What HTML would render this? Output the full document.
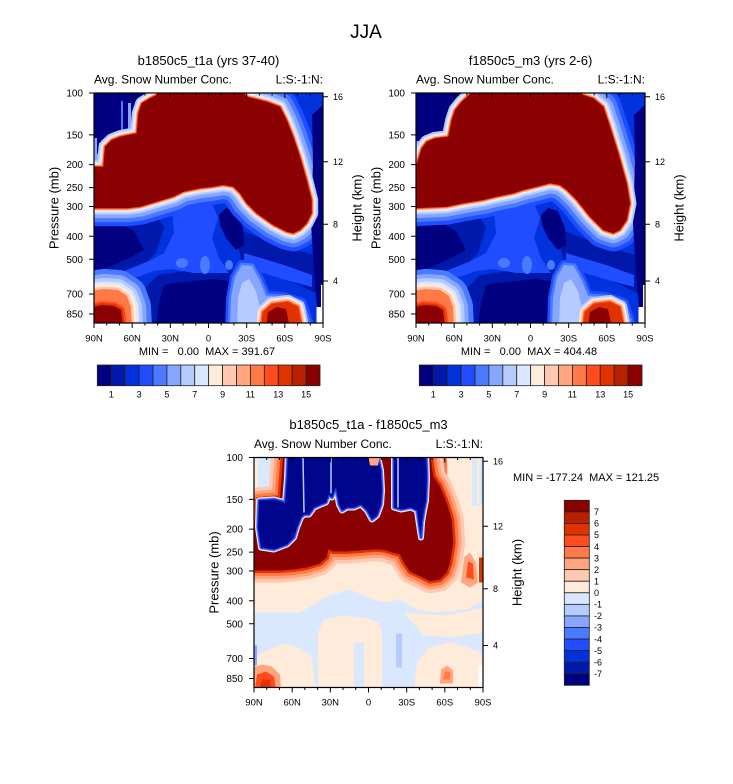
<!DOCTYPE html>
<html><head><meta charset="utf-8"><style>html,body{margin:0;padding:0;background:#fff}svg{display:block}</style></head>
<body>
<svg xmlns="http://www.w3.org/2000/svg" xmlns:xlink="http://www.w3.org/1999/xlink" width="733" height="784" viewBox="0 0 733 784" font-family="'Liberation Sans', Arial, Helvetica, sans-serif">
<defs>
<clipPath id="clip"><rect x="0" y="0" width="229" height="230"/></clipPath>
<path id="b1" d="M-5,73.7 L9.3,73.7 L11,53.7 L17.7,47 L26,43.7 L34.3,42 L42.7,40.3 L44.3,20.3 L47.7,10.3 L56,5.3 L62.7,2 L64.3,-5 L146,-5 L152.7,3.7 L172.7,8.7 L186,13.7 L192.7,27 L199.3,43.7 L206,63.7 L212.7,87 L217.7,107 L217.7,120.3 L212.7,130.3 L206,137 L199.3,140.3 L192.7,138.7 L179.3,132 L162.7,120.3 L152.7,110.3 L146,100.3 L139.3,93.7 L129.3,92 L119.3,93.7 L106,95.3 L89.3,98.7 L79.3,103.7 L62.7,108.7 L46,113.7 L32.7,115.3 L12.7,115.3 L-5,115.3 Z"/>
<path id="b2" d="M-5,73.7 L0,73.7 L5.7,55.3 L10.7,48.7 L19,45.3 L32.3,43.7 L35.7,27 L39,17 L45.7,8.7 L60.7,-5 L145.7,-5 L177.3,5.3 L187.3,13.7 L194,33.7 L202.3,60.3 L210.7,90.3 L214,110.3 L210.7,127 L204,137 L197.3,140.3 L187.3,137 L174,123.7 L160.7,107 L150.7,97 L144,92 L134,90.3 L120.7,93.7 L107.3,97 L97.3,100.3 L80.7,103.7 L67.3,107 L47.3,110.3 L30.7,113.7 L-5,115.3 Z"/>
<path id="bl" d="M-5,198 L10,196 L24,197 L33,203 L37,214 L38,235 L-5,235 Z"/>
<path id="blc" d="M-5,215 L8,212 L20,213 L27,217 L29,235 L-5,235 Z"/>
<path id="brg" d="M136,235 L137,205 L141,184 L148,172 L158,173 L166,188 L172,203 L190,204 L208,210 L216,235 Z"/>
<path id="brc0" d="M143,235 L144,205 L148,190 L155,186 L162,198 L166,215 L168,235 Z"/>
<path id="br" d="M167,235 L169,219 L178,211 L194,209 L204,214 L208,235 Z"/>
<path id="brc" d="M172,235 L174,219 L183,214 L192,216 L196,235 Z"/>
<path id="rs" d="M218,22 L231,10 L231,214 L223,214 L220,180 L217,130 L219,70 Z"/>
<path id="r3" d="M-5,68 L3,68 L4,42 L26,40 L29.3,-5 L176,-5 L179.3,18.7 L186,28.7 L192.7,45.3 L197.7,62 L199.3,85.3 L196,105.3 L192.7,115.3 L186,122 L176,123.7 L166,118.7 L156,114 L149.3,104 L146,97 L138,95 L132.7,93 L126,92 L119.3,92 L106,93 L92.7,94 L79.3,94 L74.3,92 L72.7,100 L66,106 L52.7,110 L39.3,112 L26,113 L12.7,113 L-5,113 Z"/>
<path id="n3a" d="M5,43 L20,42 L28,44 L31,46 L33,20 L34,-5 L123,-5 L127,13 L128,33 L127,47 L123,58 L118,62 L113,53 L107,47 L100,50 L93,50 L88,53 L85,47 L82,30 L78,40 L75,37 L72,45 L67,47 L60,50 L55,57 L50,57 L47,60 L43,70 L40,80 L33,87 L20,92 L7,90 L4,70 Z"/>
<path id="n3b" d="M140,-5 L172,-5 L173,20 L172,43 L170,53 L168,65 L167,80 L165,67 L163,53 L157,50 L147,52 L140,50 Z"/>

<g id="bg12">
<rect x="-2" y="-2" width="233" height="234" fill="#0033dd"/>
<path fill="#0019aa" d="M-2,116 L60,116 L70,135 L62,160 L42,180 L-2,184 Z"/>
<path fill="#0019aa" d="M38,232 L50,196 L64,182 L100,177 L140,177 L154,188 L162,232 Z"/>
<path fill="#0019aa" d="M140,135 L175,148 L212,160 L231,165 L231,205 L205,192 L175,180 L148,170 Z"/>
<path fill="#1f4dff" d="M78,118 L118,110 L124,125 L118,145 L125,165 L135,180 L100,180 L78,176 L60,178 L40,185 L-2,194 L-2,186 L30,178 L55,168 L70,160 L80,140 Z"/>
<path fill="#1f4dff" d="M150,160 L190,172 L218,182 L218,194 L188,186 L150,174 Z"/>
<ellipse cx="88" cy="170" rx="6" ry="5" fill="#4a7aff"/>
<ellipse cx="111" cy="172" rx="5" ry="9" fill="#4a7aff"/>
<ellipse cx="135" cy="172" rx="4" ry="5" fill="#4a7aff"/>
<path fill="#000080" d="M-2,127 L25,130 L40,138 L50,157 L35,165 L15,174 L-2,178 Z"/>
<path fill="#000080" d="M62,232 L66,205 L70,192 L80,190 L100,188 L120,186 L135,188 L143,200 L145,232 Z"/>
<path fill="#000080" d="M125,122 L132,115 L142,118 L149,135 L150,152 L142,157 L132,145 L126,132 Z"/>
<g fill="none" stroke-linejoin="round">
<use xlink:href="#bl" stroke="#4a7aff" stroke-width="40"/>
<use xlink:href="#bl" stroke="#86a6ff" stroke-width="30"/>
<use xlink:href="#bl" stroke="#b6cbff" stroke-width="22"/>
<use xlink:href="#bl" stroke="#d9e8ff" stroke-width="15"/>
<use xlink:href="#bl" stroke="#ffebd9" stroke-width="10"/>
<use xlink:href="#bl" stroke="#ffc9b1" stroke-width="5"/>
</g>
<use xlink:href="#bl" fill="#ff7a46"/>
<g fill="none" stroke-linejoin="round">
<use xlink:href="#blc" stroke="#ff4c1a" stroke-width="8"/>
<use xlink:href="#blc" stroke="#e13300" stroke-width="4"/>
</g>
<use xlink:href="#blc" fill="#8b0000"/>
<g fill="none" stroke-linejoin="round">
<use xlink:href="#brg" stroke="#1f4dff" stroke-width="10"/>
<use xlink:href="#brg" stroke="#4a7aff" stroke-width="5"/>
</g>
<use xlink:href="#brg" fill="#86a6ff"/>
<use xlink:href="#brc0" fill="#b6cbff"/>
<g fill="none" stroke-linejoin="round">
<use xlink:href="#br" stroke="#b6cbff" stroke-width="14"/>
<use xlink:href="#br" stroke="#ffebd9" stroke-width="10"/>
<use xlink:href="#br" stroke="#ffc9b1" stroke-width="7"/>
<use xlink:href="#br" stroke="#ffa681" stroke-width="4.5"/>
<use xlink:href="#br" stroke="#ff4c1a" stroke-width="2.5"/>
</g>
<use xlink:href="#br" fill="#e13300"/>
<use xlink:href="#brc" fill="#8b0000"/>
</g>

<g id="ticks" stroke="#000" fill="none">
<rect x="0" y="0" width="229" height="230" stroke-width="1.2"/>
<path stroke-width="1" d="M-5,0H0M-5,41.9H0M-5,71.6H0M-5,94.6H0M-5,113.5H0M-5,143.2H0M-5,166.2H0M-5,201H0M-5,221H0"/>
<path stroke-width="1" d="M229,3.7h5M229,68.7h5M229,131.3h5M229,188h5"/>
<path stroke-width="1" d="M0,230v5M38.17,230v5M76.33,230v5M114.5,230v5M152.67,230v5M190.83,230v5M229,230v5"/>
<path stroke-width="1" d="M12.72,230v2.5M25.44,230v2.5M50.89,230v2.5M63.61,230v2.5M89.06,230v2.5M101.78,230v2.5M127.22,230v2.5M139.94,230v2.5M165.39,230v2.5M178.11,230v2.5M203.56,230v2.5M216.28,230v2.5"/>
<path stroke-width="1" d="M38.17,0v5M76.33,0v5M114.5,0v5M152.67,0v5M190.83,0v5"/>
<path stroke-width="1" d="M12.72,0v2.5M25.44,0v2.5M50.89,0v2.5M63.61,0v2.5M89.06,0v2.5M101.78,0v2.5M127.22,0v2.5M139.94,0v2.5M165.39,0v2.5M178.11,0v2.5M203.56,0v2.5M216.28,0v2.5"/>
</g>
</defs>

<rect x="0" y="0" width="733" height="784" fill="#fff"/>

<text x="366" y="38" font-size="19" text-anchor="middle">JJA</text>

<!-- ============ PANEL 1 ============ -->
<g transform="translate(94,93)">
<g clip-path="url(#clip)">
<use xlink:href="#bg12"/>
<g fill="none" stroke-linejoin="round">
<use xlink:href="#b1" stroke="#1f4dff" stroke-width="36"/>
<use xlink:href="#b1" stroke="#4a7aff" stroke-width="28"/>
<use xlink:href="#b1" stroke="#86a6ff" stroke-width="20"/>
</g>
<path fill="#000080" d="M-2,-2 L56,-2 L48,3 L42,10 L39,22 L37,35 L26,37 L15,41 L7,48 L4,60 L-2,68 Z"/>
<rect x="27" y="8" width="2" height="32" fill="#4a7aff"/>
<rect x="34" y="10" width="3" height="30" fill="#86a6ff"/>
<rect x="0" y="45" width="3" height="28" fill="#86a6ff"/>
<rect x="5" y="50" width="2" height="23" fill="#b6cbff"/>
<use xlink:href="#rs" fill="#000080"/>
<g fill="none" stroke-linejoin="round">
<use xlink:href="#b1" stroke="#b6cbff" stroke-width="13"/>
<use xlink:href="#b1" stroke="#d9e8ff" stroke-width="9"/>
<use xlink:href="#b1" stroke="#ffebd9" stroke-width="6"/>
<use xlink:href="#b1" stroke="#ffa681" stroke-width="4"/>
<use xlink:href="#b1" stroke="#ff4c1a" stroke-width="2"/>
</g>
<use xlink:href="#b1" fill="#8b0000"/>
<rect x="227" y="192" width="4" height="40" fill="#fff"/>
<rect x="222.5" y="214" width="9" height="18" fill="#fff"/>
</g>
<use xlink:href="#ticks"/>
</g>
<text x="208.5" y="65" font-size="13" text-anchor="middle">b1850c5_t1a (yrs 37-40)</text>
<text x="94" y="83.5" font-size="12">Avg. Snow Number Conc.</text>
<text x="323" y="83.5" font-size="12" text-anchor="end">L:S:-1:N:</text>
<text transform="translate(58.7,208) rotate(-90)" font-size="13" text-anchor="middle">Pressure (mb)</text>
<text transform="translate(361.5,208) rotate(-90)" font-size="13" text-anchor="middle">Height (km)</text>
<g font-size="10" text-anchor="end">
<text x="83" y="96.6">100</text><text x="83" y="138.5">150</text><text x="83" y="168.2">200</text><text x="83" y="191.2">250</text><text x="83" y="210.1">300</text><text x="83" y="239.8">400</text><text x="83" y="262.8">500</text><text x="83" y="297.6">700</text><text x="83" y="317.6">850</text>
</g>
<g font-size="9">
<text x="333" y="99.9">16</text><text x="333" y="164.9">12</text><text x="333" y="227.5">8</text><text x="333" y="284.2">4</text>
</g>
<g font-size="9.5" text-anchor="middle">
<text x="94" y="341.5">90N</text><text x="132.2" y="341.5">60N</text><text x="170.3" y="341.5">30N</text><text x="208.5" y="341.5">0</text><text x="246.7" y="341.5">30S</text><text x="284.8" y="341.5">60S</text><text x="323" y="341.5">90S</text>
</g>
<text x="207" y="355" font-size="11" text-anchor="middle" xml:space="preserve">MIN =   0.00  MAX = 391.67</text>
<g stroke="#222" stroke-width="0.8">
<rect x="97.3" y="365" width="13.92" height="20.7" fill="#000080"/>
<rect x="111.22" y="365" width="13.92" height="20.7" fill="#0019aa"/>
<rect x="125.14" y="365" width="13.92" height="20.7" fill="#0033dd"/>
<rect x="139.06" y="365" width="13.92" height="20.7" fill="#1f4dff"/>
<rect x="152.98" y="365" width="13.92" height="20.7" fill="#4a7aff"/>
<rect x="166.9" y="365" width="13.92" height="20.7" fill="#86a6ff"/>
<rect x="180.82" y="365" width="13.92" height="20.7" fill="#b6cbff"/>
<rect x="194.74" y="365" width="13.92" height="20.7" fill="#d9e8ff"/>
<rect x="208.66" y="365" width="13.92" height="20.7" fill="#ffebd9"/>
<rect x="222.58" y="365" width="13.92" height="20.7" fill="#ffc9b1"/>
<rect x="236.5" y="365" width="13.92" height="20.7" fill="#ffa681"/>
<rect x="250.42" y="365" width="13.92" height="20.7" fill="#ff7a46"/>
<rect x="264.34" y="365" width="13.92" height="20.7" fill="#ff4c1a"/>
<rect x="278.26" y="365" width="13.92" height="20.7" fill="#e13300"/>
<rect x="292.18" y="365" width="13.92" height="20.7" fill="#b82100"/>
<rect x="306.1" y="365" width="13.92" height="20.7" fill="#8b0000"/>
</g>
<g font-size="9" text-anchor="middle">
<text x="111.2" y="397.5">1</text><text x="139.1" y="397.5">3</text><text x="166.9" y="397.5">5</text><text x="194.7" y="397.5">7</text><text x="222.6" y="397.5">9</text><text x="250.4" y="397.5">11</text><text x="278.3" y="397.5">13</text><text x="306.1" y="397.5">15</text>
</g>

<!-- ============ PANEL 2 ============ -->
<g transform="translate(416,93)">
<g clip-path="url(#clip)">
<use xlink:href="#bg12"/>
<g fill="none" stroke-linejoin="round">
<use xlink:href="#b2" stroke="#1f4dff" stroke-width="36"/>
<use xlink:href="#b2" stroke="#4a7aff" stroke-width="28"/>
<use xlink:href="#b2" stroke="#86a6ff" stroke-width="20"/>
</g>
<path fill="#000080" d="M-2,-2 L52,-2 L42,5 L35,14 L31,26 L28,38 L17,40 L8,44 L3,52 L-2,66 Z"/>
<rect x="0" y="48" width="3" height="25" fill="#86a6ff"/>
<use xlink:href="#rs" fill="#000080"/>
<g fill="none" stroke-linejoin="round">
<use xlink:href="#b2" stroke="#b6cbff" stroke-width="13"/>
<use xlink:href="#b2" stroke="#d9e8ff" stroke-width="9"/>
<use xlink:href="#b2" stroke="#ffebd9" stroke-width="6"/>
<use xlink:href="#b2" stroke="#ffa681" stroke-width="4"/>
<use xlink:href="#b2" stroke="#ff4c1a" stroke-width="2"/>
</g>
<use xlink:href="#b2" fill="#8b0000"/>
<rect x="227" y="192" width="4" height="40" fill="#fff"/>
<rect x="222.5" y="214" width="9" height="18" fill="#fff"/>
</g>
<use xlink:href="#ticks"/>
</g>
<text x="530.5" y="65" font-size="13" text-anchor="middle">f1850c5_m3 (yrs 2-6)</text>
<text x="416" y="83.5" font-size="12">Avg. Snow Number Conc.</text>
<text x="645" y="83.5" font-size="12" text-anchor="end">L:S:-1:N:</text>
<text transform="translate(380.7,208) rotate(-90)" font-size="13" text-anchor="middle">Pressure (mb)</text>
<text transform="translate(683.5,208) rotate(-90)" font-size="13" text-anchor="middle">Height (km)</text>
<g font-size="10" text-anchor="end">
<text x="405" y="96.6">100</text><text x="405" y="138.5">150</text><text x="405" y="168.2">200</text><text x="405" y="191.2">250</text><text x="405" y="210.1">300</text><text x="405" y="239.8">400</text><text x="405" y="262.8">500</text><text x="405" y="297.6">700</text><text x="405" y="317.6">850</text>
</g>
<g font-size="9">
<text x="655" y="99.9">16</text><text x="655" y="164.9">12</text><text x="655" y="227.5">8</text><text x="655" y="284.2">4</text>
</g>
<g font-size="9.5" text-anchor="middle">
<text x="416" y="341.5">90N</text><text x="454.2" y="341.5">60N</text><text x="492.3" y="341.5">30N</text><text x="530.5" y="341.5">0</text><text x="568.7" y="341.5">30S</text><text x="606.8" y="341.5">60S</text><text x="645" y="341.5">90S</text>
</g>
<text x="529" y="355" font-size="11" text-anchor="middle" xml:space="preserve">MIN =   0.00  MAX = 404.48</text>
<g stroke="#222" stroke-width="0.8">
<rect x="419.3" y="365" width="13.92" height="20.7" fill="#000080"/>
<rect x="433.22" y="365" width="13.92" height="20.7" fill="#0019aa"/>
<rect x="447.14" y="365" width="13.92" height="20.7" fill="#0033dd"/>
<rect x="461.06" y="365" width="13.92" height="20.7" fill="#1f4dff"/>
<rect x="474.98" y="365" width="13.92" height="20.7" fill="#4a7aff"/>
<rect x="488.9" y="365" width="13.92" height="20.7" fill="#86a6ff"/>
<rect x="502.82" y="365" width="13.92" height="20.7" fill="#b6cbff"/>
<rect x="516.74" y="365" width="13.92" height="20.7" fill="#d9e8ff"/>
<rect x="530.66" y="365" width="13.92" height="20.7" fill="#ffebd9"/>
<rect x="544.58" y="365" width="13.92" height="20.7" fill="#ffc9b1"/>
<rect x="558.5" y="365" width="13.92" height="20.7" fill="#ffa681"/>
<rect x="572.42" y="365" width="13.92" height="20.7" fill="#ff7a46"/>
<rect x="586.34" y="365" width="13.92" height="20.7" fill="#ff4c1a"/>
<rect x="600.26" y="365" width="13.92" height="20.7" fill="#e13300"/>
<rect x="614.18" y="365" width="13.92" height="20.7" fill="#b82100"/>
<rect x="628.1" y="365" width="13.92" height="20.7" fill="#8b0000"/>
</g>
<g font-size="9" text-anchor="middle">
<text x="433.2" y="397.5">1</text><text x="461.1" y="397.5">3</text><text x="488.9" y="397.5">5</text><text x="516.7" y="397.5">7</text><text x="544.6" y="397.5">9</text><text x="572.4" y="397.5">11</text><text x="600.3" y="397.5">13</text><text x="628.1" y="397.5">15</text>
</g>

<!-- ============ PANEL 3 ============ -->
<g transform="translate(254,457.5)">
<g clip-path="url(#clip)">
<rect x="-2" y="-2" width="233" height="234" fill="#d9e8ff"/>
<path fill="#ffebd9" d="M-2,95 L-2,155 L46,155 L63,145 L73,139 L96,132 L119,142 L133,145 L146,142 L163,152 L179,155 L213,152 L231,142 L231,-2 L185,-2 L185,95 Z"/>
<rect x="218" y="-2" width="13" height="50" fill="#d9e8ff"/>
<rect x="223" y="-2" width="2.5" height="48" fill="#ffebd9"/>
<rect x="-2" y="-2" width="6" height="40" fill="#ffebd9"/>
<rect x="25" y="-2" width="8" height="46" fill="#ffa681"/>
<rect x="27" y="2" width="3" height="42" fill="#e13300"/>
<path fill="#ffebd9" d="M64,232 L64,175 L70,162 L90,158 L110,160 L125,165 L128,175 L128,232 Z"/>
<rect x="100" y="185" width="10" height="47" fill="#d9e8ff"/>
<path fill="#ffebd9" d="M-2,232 L-2,200 L15,192 L30,186 L45,190 L58,200 L62,232 Z"/>
<path fill="#ffebd9" d="M160,232 L163,205 L175,190 L195,185 L215,190 L231,198 L231,232 Z"/>
<path fill="#ffebd9" d="M150,155 L190,158 L231,150 L231,175 L200,180 L170,178 Z"/>
<rect x="142" y="176" width="6" height="34" fill="#b6cbff"/>
<rect x="-2" y="188" width="5" height="20" fill="#86a6ff"/>
<path fill="#ffa681" d="M-2,232 L-2,210 L8,207 L18,209 L26,217 L27,232 Z"/>
<path fill="#ff4c1a" d="M1,232 L3,217 L12,214 L20,219 L22,232 Z"/>
<path fill="#e13300" d="M5,232 L8,222 L16,222 L17,232 Z"/>
<path fill="#ffa681" d="M186,226 L187,212 L193,208 L199,213 L199,226 Z"/>
<path fill="#ff7a46" d="M189,222 L191,214 L196,214 L196,222 Z"/>
<path fill="#ff7a46" d="M186,0 L193,0 L194,60 L190,85 L186,60 Z"/>
<g fill="none" stroke-linejoin="round">
<use xlink:href="#r3" stroke="#ffc9b1" stroke-width="24"/>
<use xlink:href="#r3" stroke="#ffa681" stroke-width="17"/>
<use xlink:href="#r3" stroke="#ff7a46" stroke-width="11"/>
<use xlink:href="#r3" stroke="#e13300" stroke-width="5"/>
</g>
<use xlink:href="#r3" fill="#8b0000"/>
<g fill="none" stroke-linejoin="round">
<use xlink:href="#n3a" stroke="#ffebd9" stroke-width="6"/>
<use xlink:href="#n3a" stroke="#86a6ff" stroke-width="4"/>
<use xlink:href="#n3a" stroke="#1f4dff" stroke-width="2.5"/>
<use xlink:href="#n3b" stroke="#ffebd9" stroke-width="6"/>
<use xlink:href="#n3b" stroke="#86a6ff" stroke-width="4"/>
<use xlink:href="#n3b" stroke="#1f4dff" stroke-width="2.5"/>
</g>
<use xlink:href="#n3a" fill="#00068c"/>
<use xlink:href="#n3b" fill="#00068c"/>
<path fill="none" stroke="#b6cbff" stroke-width="1.5" d="M49,0 L50,55 M77,0 L77,36 M144,0 L144,50"/>
<path fill="#ffa681" d="M114,-2 L126,-2 L124,8 L116,8 Z"/>
<path fill="#ffa681" d="M207,125 L210,100 L216,95 L222,105 L224,125 L216,130 Z"/>
<path fill="#ff4c1a" d="M212,120 L214,104 L219,106 L220,122 Z"/>
<rect x="225" y="100" width="6" height="25" fill="#e13300"/>
<rect x="224.5" y="208" width="8" height="25" fill="#fff"/>
</g>
<use xlink:href="#ticks"/>
</g>
<text x="368.5" y="429" font-size="13" text-anchor="middle">b1850c5_t1a - f1850c5_m3</text>
<text x="254" y="448" font-size="12">Avg. Snow Number Conc.</text>
<text x="483" y="448" font-size="12" text-anchor="end">L:S:-1:N:</text>
<text transform="translate(218.7,572.5) rotate(-90)" font-size="13" text-anchor="middle">Pressure (mb)</text>
<text transform="translate(521.5,572.5) rotate(-90)" font-size="13" text-anchor="middle">Height (km)</text>
<g font-size="10" text-anchor="end">
<text x="243" y="461.1">100</text><text x="243" y="503">150</text><text x="243" y="532.7">200</text><text x="243" y="555.7">250</text><text x="243" y="574.6">300</text><text x="243" y="604.3">400</text><text x="243" y="627.3">500</text><text x="243" y="662.1">700</text><text x="243" y="682.1">850</text>
</g>
<g font-size="9">
<text x="493" y="464.4">16</text><text x="493" y="529.4">12</text><text x="493" y="592">8</text><text x="493" y="648.7">4</text>
</g>
<g font-size="9.5" text-anchor="middle">
<text x="254" y="705.5">90N</text><text x="292.2" y="705.5">60N</text><text x="330.3" y="705.5">30N</text><text x="368.5" y="705.5">0</text><text x="406.7" y="705.5">30S</text><text x="444.8" y="705.5">60S</text><text x="483" y="705.5">90S</text>
</g>
<text x="513" y="481" font-size="11" xml:space="preserve">MIN = -177.24  MAX = 121.25</text>
<g stroke="#222" stroke-width="0.8">
<rect x="564.3" y="500.3" width="25" height="11.56" fill="#8b0000"/>
<rect x="564.3" y="511.86" width="25" height="11.56" fill="#b82100"/>
<rect x="564.3" y="523.43" width="25" height="11.56" fill="#e13300"/>
<rect x="564.3" y="534.99" width="25" height="11.56" fill="#ff4c1a"/>
<rect x="564.3" y="546.55" width="25" height="11.56" fill="#ff7a46"/>
<rect x="564.3" y="558.11" width="25" height="11.56" fill="#ffa681"/>
<rect x="564.3" y="569.68" width="25" height="11.56" fill="#ffc9b1"/>
<rect x="564.3" y="581.24" width="25" height="11.56" fill="#ffebd9"/>
<rect x="564.3" y="592.8" width="25" height="11.56" fill="#d9e8ff"/>
<rect x="564.3" y="604.36" width="25" height="11.56" fill="#b6cbff"/>
<rect x="564.3" y="615.93" width="25" height="11.56" fill="#86a6ff"/>
<rect x="564.3" y="627.49" width="25" height="11.56" fill="#4a7aff"/>
<rect x="564.3" y="639.05" width="25" height="11.56" fill="#1f4dff"/>
<rect x="564.3" y="650.61" width="25" height="11.56" fill="#0033dd"/>
<rect x="564.3" y="662.18" width="25" height="11.56" fill="#0019aa"/>
<rect x="564.3" y="673.74" width="25" height="11.56" fill="#000080"/>
</g>
<g font-size="9">
<text x="594" y="515.1">7</text><text x="594" y="526.6">6</text><text x="594" y="538.2">5</text><text x="594" y="549.8">4</text><text x="594" y="561.3">3</text><text x="594" y="572.9">2</text><text x="594" y="584.4">1</text><text x="594" y="596">0</text><text x="594" y="607.6">-1</text><text x="594" y="619.1">-2</text><text x="594" y="630.7">-3</text><text x="594" y="642.3">-4</text><text x="594" y="653.8">-5</text><text x="594" y="665.4">-6</text><text x="594" y="676.9">-7</text>
</g>
</svg>
</body></html>
